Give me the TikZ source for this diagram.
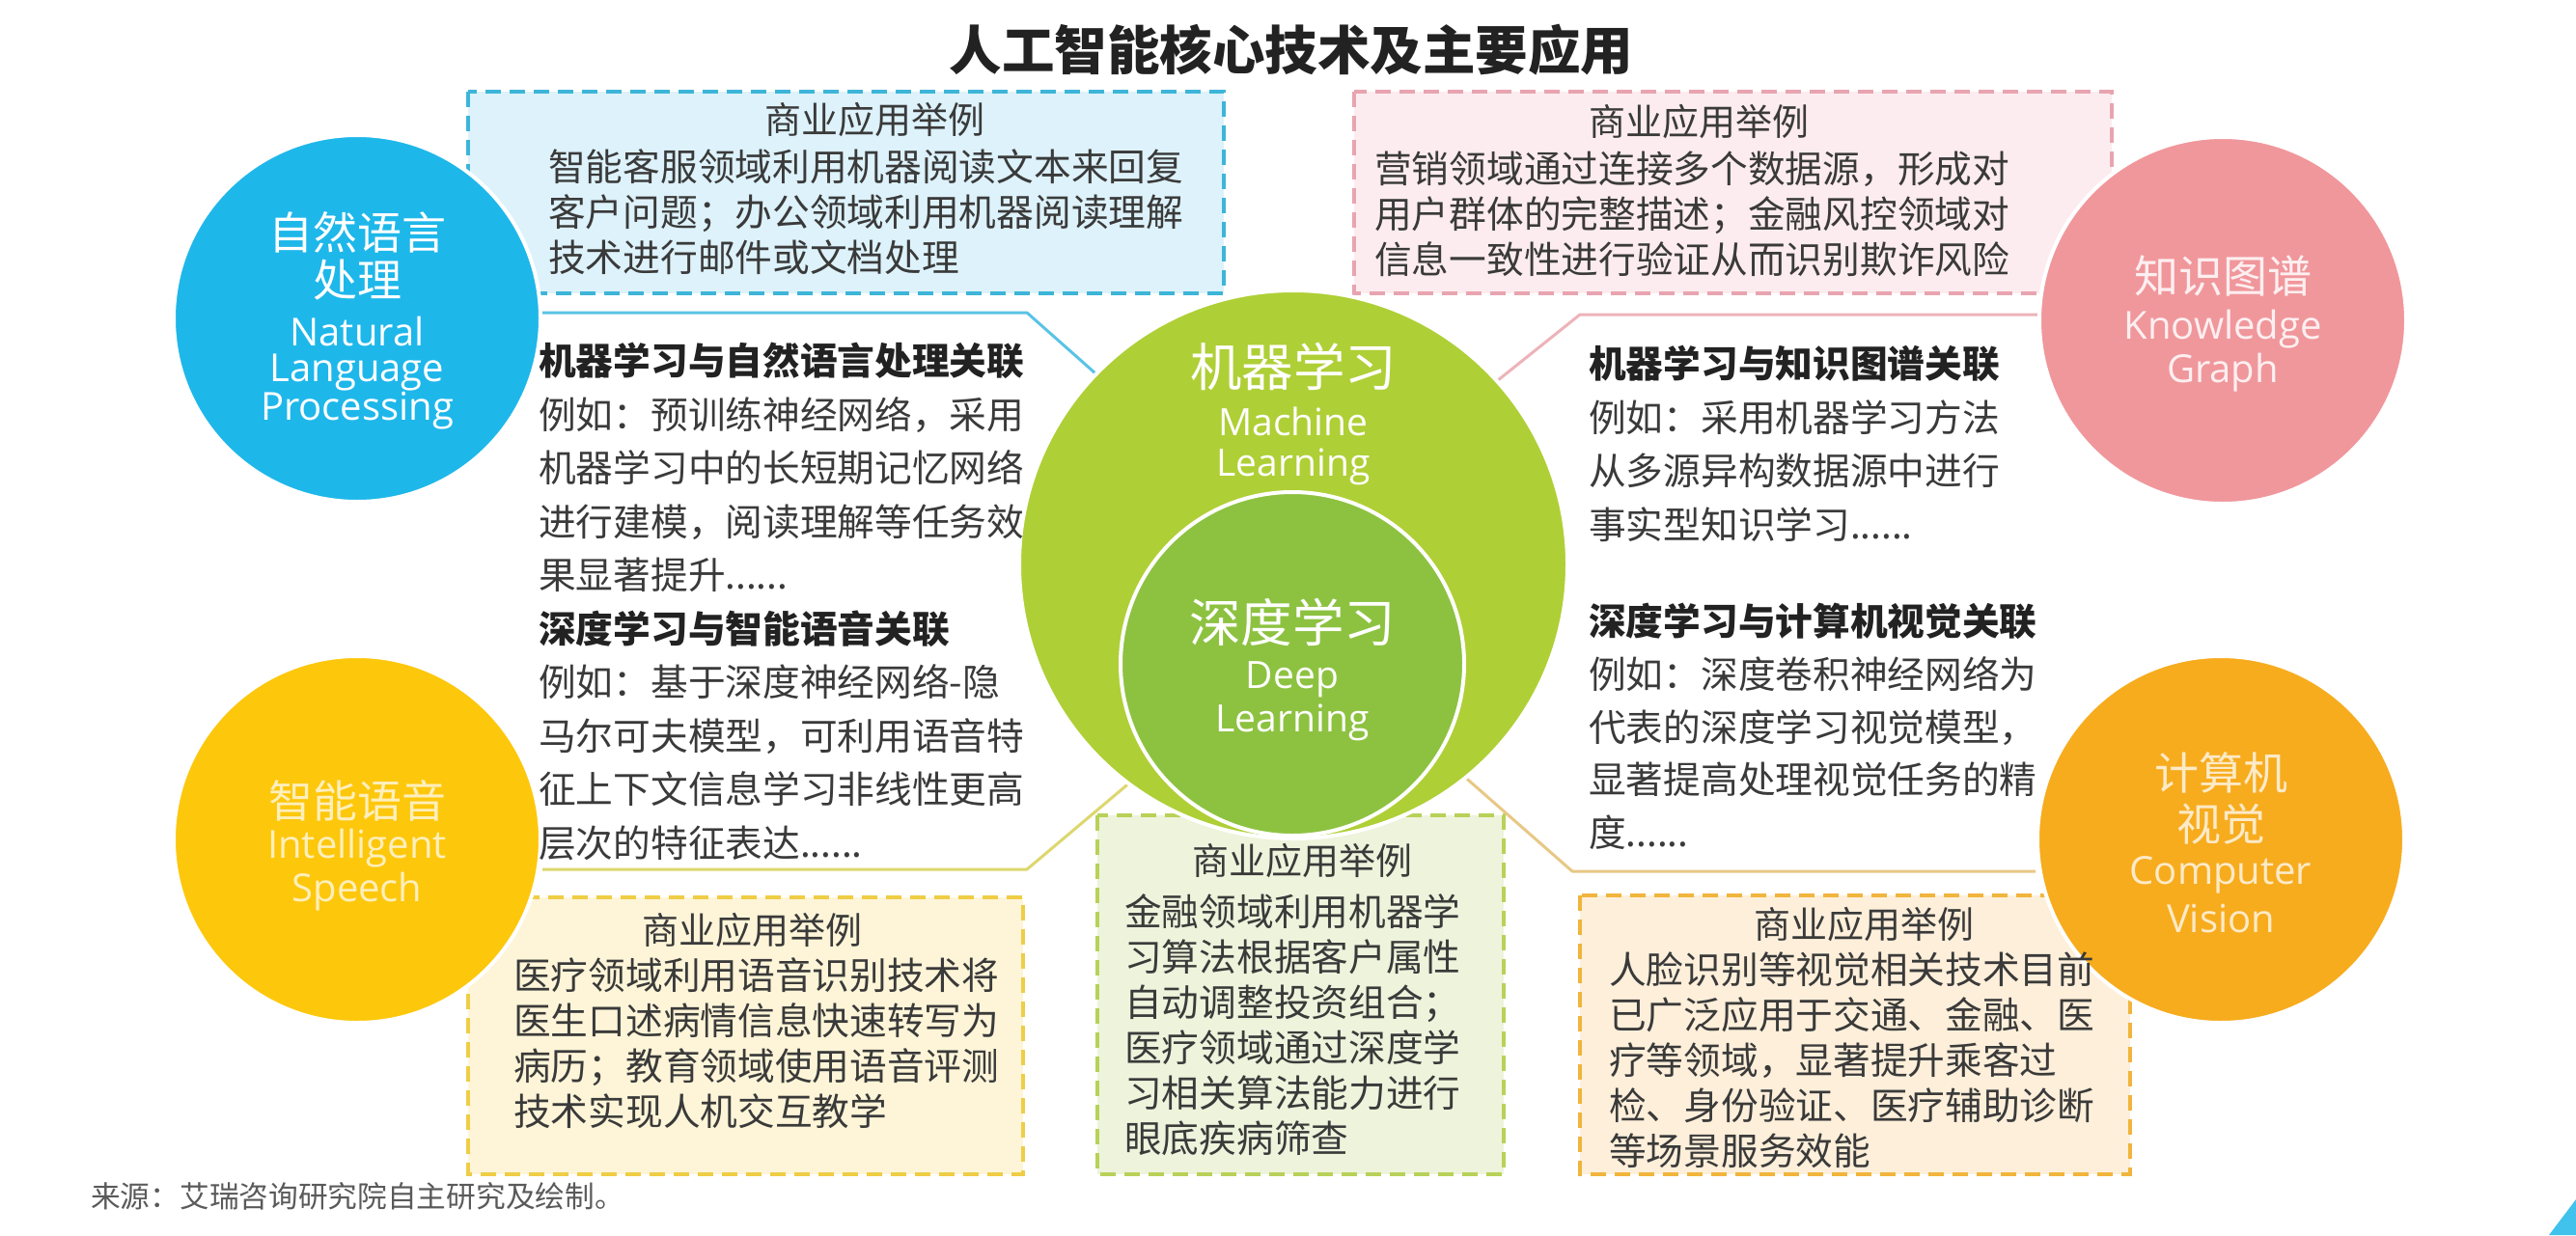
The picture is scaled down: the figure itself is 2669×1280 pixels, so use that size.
\documentclass[tikz,border=0pt]{standalone}
\usepackage{fontspec}
\setmainfont{Noto Sans CJK SC}
\newfontfamily\enfont{Open Sans}
\newcommand\sixdots{......}
\pgfdeclarelayer{back}
\pgfdeclarelayer{bg}
\pgfsetlayers{back,bg,main}
\definecolor{nlpc}{HTML}{1EB7EA}
\definecolor{kgc}{HTML}{F0979C}
\definecolor{spc}{HTML}{FDC70C}
\definecolor{cvc}{HTML}{F7AC1E}
\definecolor{mlc}{HTML}{AFCF36}
\definecolor{dlc}{HTML}{8DC241}
\definecolor{bodyc}{HTML}{3A3A3A}
\definecolor{headc}{HTML}{222222}
\definecolor{srcc}{HTML}{5A5A5A}
\definecolor{bboxf}{HTML}{DDF2FA}\definecolor{bboxd}{HTML}{3DB5D8}
\definecolor{pboxf}{HTML}{FCECEF}\definecolor{pboxd}{HTML}{E8A4B0}
\definecolor{yboxf}{HTML}{FEF5D8}\definecolor{yboxd}{HTML}{EFCD45}
\definecolor{gboxf}{HTML}{EEF3DC}\definecolor{gboxd}{HTML}{B8D158}
\definecolor{oboxf}{HTML}{FDEFDA}\definecolor{oboxd}{HTML}{F1B43C}
\definecolor{bline}{HTML}{5AC3E5}
\definecolor{pline}{HTML}{EDB3B9}
\definecolor{yline}{HTML}{DDD76E}
\definecolor{oline}{HTML}{E7C885}
\tikzset{
  dbox/.style 2 args={fill=#1, draw=#2, line width=4pt, dash pattern=on 16pt off 9pt},
  disc/.style={circle, fill=#1, draw=white, line width=4pt, inner sep=0pt, minimum size=380pt},
  link/.style={draw=#1, line width=3pt, line join=round},
  body/.style={anchor=base west, inner sep=0pt, text=bodyc, font=\fontsize{38.7}{46}\selectfont},
  boxhead/.style={inner sep=0pt, text=bodyc, font=\fontsize{38}{40}\selectfont},
  cjkw/.style={inner sep=0pt, text=#1, font=\fontsize{46}{50}\selectfont},
  enw/.style={inner sep=0pt, text=#1, font=\enfont\fontsize{40}{44}\selectfont},
  bigcjk/.style={inner sep=0pt, text=white, font=\fontsize{53.5}{56}\selectfont},
  bigen/.style={inner sep=0pt, text=white, font=\enfont\fontsize{39}{42}\selectfont},
  titletxt/.style={inner sep=0pt, text=headc, font=\fontsize{54.5}{58}\selectfont\bfseries},
  srctxt/.style={anchor=west, inner sep=0pt, text=srcc, font=\fontsize{30.7}{34}\selectfont},
}
\begin{document}
\begin{tikzpicture}[x=1pt,y=-1pt]
\begin{pgfonlayer}{back}
\path[use as bounding box, fill=white] (0,0) rectangle (2669,1280);
\end{pgfonlayer}

% title
\node[titletxt] (title) at (1338,52) {人工智能核心技术及主要应用};

% circles
\node[disc=nlpc] (nlp) at (370,330) {};
\node[disc=kgc] (kg) at (2303,332) {};
\node[disc=spc] (sp) at (370,870) {};
\node[disc=cvc] (cv) at (2301,870) {};
\node[circle, fill=mlc, draw=white, line width=4pt, inner sep=0pt, minimum size=568pt] (ml) at (1340,585) {};
\node[circle, fill=dlc, draw=white, line width=4pt, inner sep=0pt, minimum size=356pt] (dl) at (1339,688) {};

% boxes and connectors (behind)
\begin{pgfonlayer}{bg}
\draw[dbox={bboxf}{bboxd}] (485,95) rectangle (1268,304);
\draw[dbox={pboxf}{pboxd}] (1403,95) rectangle (2188,304);
\draw[dbox={yboxf}{yboxd}] (485,930) rectangle (1060,1217);
\draw[dbox={gboxf}{gboxd}] (1137,845) rectangle (1558,1217);
\draw[dbox={oboxf}{oboxd}] (1637,928) rectangle (2207,1217);
\coordinate (b1) at (1064,324);
\draw[link=bline] (nlp.east |- b1) -- (b1) -- (ml.136);
\coordinate (k1) at (1637,326);
\draw[link=pline] (kg.west |- k1) -- (k1) -- (ml.42);
\coordinate (s1) at (1064,901);
\draw[link=yline] (sp.east |- s1) -- (s1) -- (ml.233);
\coordinate (c1) at (1629,903);
\draw[link=oline] (cv.west |- c1) -- (c1) -- (ml.309);
\end{pgfonlayer}

% circle labels
\node[cjkw=white] (nlpa) at (370,241) {自然语言};
\node[cjkw=white] (nlpb) at (370,290) {处理};
\node[enw=white] (nlpc) at (370,343) {Natural};
\node[enw=white] (nlpd) at (370,386) {Language};
\node[enw=white] (nlpe) at (370,426) {Processing};

\node[cjkw=white!85!kgc] (kga) at (2303,286) {知识图谱};
\node[enw=white!85!kgc] (kgb) at (2303,341) {Knowledge};
\node[enw=white!85!kgc] (kgc) at (2303,386) {Graph};

\node[cjkw=white!72!spc] (spa) at (370,830) {智能语音};
\node[enw=white!72!spc] (spb) at (370,879) {Intelligent};
\node[enw=white!72!spc] (spc) at (370,924) {Speech};

\node[cjkw=white!75!cvc] (cva) at (2301,801) {计算机};
\node[cjkw=white!75!cvc] (cvb) at (2301,854) {视觉};
\node[enw=white!75!cvc] (cvc) at (2301,907) {Computer};
\node[enw=white!75!cvc] (cvd) at (2301,952) {Vision};

\node[bigcjk] (mla) at (1340,380) {机器学习};
\node[bigen] (mlb) at (1340,437) {Machine};
\node[bigen] (mlc) at (1340,484) {Learning};
\node[bigcjk] (dla) at (1339,645) {深度学习};
\node[bigen] (dlb) at (1339,704) {Deep};
\node[bigen] (dlc) at (1339,749) {Learning};

% left column
\foreach \t [count=\i] in {
  {\bfseries\color{headc}机器学习与自然语言处理关联},
  例如：预训练神经网络，采用,
  机器学习中的长短期记忆网络,
  进行建模，阅读理解等任务效,
  果显著提升\sixdots,
  {\bfseries\color{headc}深度学习与智能语音关联},
  例如：基于深度神经网络-隐,
  马尔可夫模型，可利用语音特,
  征上下文信息学习非线性更高,
  层次的特征表达\sixdots}
  \node[body] (left\i) at (558,{388.7+(\i-1)*55.5}) {\t};

% right column
\foreach \t [count=\i] in {
  {\bfseries\color{headc}机器学习与知识图谱关联},
  例如：采用机器学习方法,
  从多源异构数据源中进行,
  事实型知识学习\sixdots}
  \node[body] (righta\i) at (1646,{391.7+(\i-1)*55.5}) {\t};
\foreach \t [count=\i] in {
  {\bfseries\color{headc}深度学习与计算机视觉关联},
  例如：深度卷积神经网络为,
  代表的深度学习视觉模型，,
  显著提高处理视觉任务的精,
  度\sixdots}
  \node[body] (rightb\i) at (1646,{658.7+(\i-1)*54.75}) {\t};

% box texts
\node[boxhead] (bhead) at (906,124) {商业应用举例};
\foreach \t [count=\i] in {
  智能客服领域利用机器阅读文本来回复,
  客户问题；办公领域利用机器阅读理解,
  技术进行邮件或文档处理}
  \node[body] (bbody\i) at (568,{187.7+(\i-1)*47}) {\t};

\node[boxhead] (phead) at (1760,126) {商业应用举例};
\foreach \t [count=\i] in {
  营销领域通过连接多个数据源，形成对,
  用户群体的完整描述；金融风控领域对,
  信息一致性进行验证从而识别欺诈风险}
  \node[body] (pbody\i) at (1424,{189.7+(\i-1)*47}) {\t};

\node[boxhead] (yhead) at (779,964) {商业应用举例};
\foreach \t [count=\i] in {
  医疗领域利用语音识别技术将,
  医生口述病情信息快速转写为,
  病历；教育领域使用语音评测,
  技术实现人机交互教学}
  \node[body] (ybody\i) at (532,{1025.7+(\i-1)*47}) {\t};

\node[boxhead] (ghead) at (1349,892) {商业应用举例};
\foreach \t [count=\i] in {
  金融领域利用机器学,
  习算法根据客户属性,
  自动调整投资组合；,
  医疗领域通过深度学,
  习相关算法能力进行,
  眼底疾病筛查}
  \node[body] (gbody\i) at (1165,{959.7+(\i-1)*47}) {\t};

\node[boxhead] (ohead) at (1931,958) {商业应用举例};
\foreach \t [count=\i] in {
  人脸识别等视觉相关技术目前,
  已广泛应用于交通、金融、医,
  疗等领域，显著提升乘客过,
  检、身份验证、医疗辅助诊断,
  等场景服务效能}
  \node[body] (obody\i) at (1667,{1019.7+(\i-1)*47}) {\t};

% source
\node[srctxt] (src) at (94,1240) {来源：艾瑞咨询研究院自主研究及绘制。};

% corner decoration
\fill[nlpc!85] (2641,1280) -- (2669,1243) -- (2669,1280) -- cycle;
\end{tikzpicture}
\end{document}
